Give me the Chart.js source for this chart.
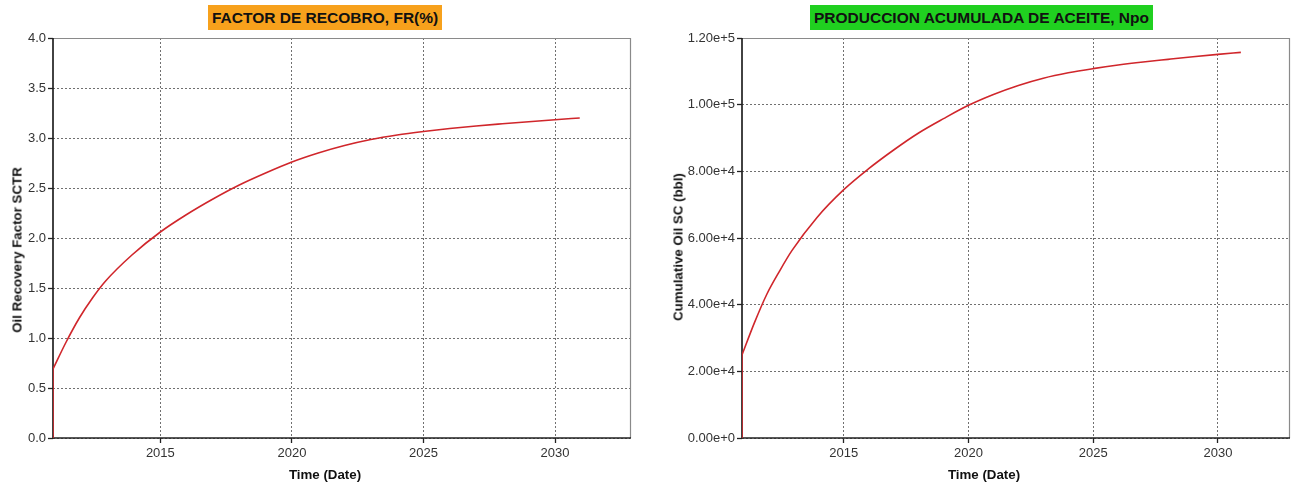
<!DOCTYPE html>
<html>
<head>
<meta charset="utf-8">
<script src="https://cdn.jsdelivr.net/npm/chart.js@4.4.1/dist/chart.umd.min.js"></script>
<style>
  html, body { margin: 0; padding: 0; background: #fff; }
  body { width: 1298px; height: 485px; position: relative; overflow: hidden; font-family: "Liberation Sans", Arial, sans-serif; }
  .panel { position: absolute; top: 0; height: 485px; }
  .heading {
    position: absolute; top: 5px; height: 25px; line-height: 25px;
    padding: 0 4px; font-weight: bold; font-size: 15.5px; color: #111; white-space: nowrap;
  }
  .axis-title {
    position: absolute; font-weight: bold; font-size: 13.3px; color: #111; white-space: nowrap;
    transform: translate(-50%, -50%);
  }
  .axis-title.vertical { transform: translate(-50%, -50%) rotate(-90deg); }
</style>
</head>
<body>
<div class="panel" style="left:0; width:645px;"><canvas id="frChart" width="645" height="485"></canvas></div>
<div class="panel" style="left:650px; width:648px;"><canvas id="npChart" width="648" height="485"></canvas></div>
<div class="heading" style="left:208px; background:#f7a11c;">FACTOR DE RECOBRO, FR(%)</div>
<div class="heading" style="left:810px; background:#20d020;">PRODUCCION ACUMULADA DE ACEITE, Npo</div>
<div class="axis-title" style="left:325px; top:474px;">Time (Date)</div>
<div class="axis-title" style="left:984px; top:474px;">Time (Date)</div>
<div class="axis-title vertical" style="left:17px; top:250px;">Oil Recovery Factor SCTR</div>
<div class="axis-title vertical" style="left:678px; top:247px;">Cumulative Oil SC (bbl)</div>
<script>
// Time axis (decimal years) and tick labels shared by both panels
const xRange = [2010.92, 2032.85];
const xTicks = [2015, 2020, 2025, 2030];

// Oil recovery factor (%): opening step, then the production history
const frStartYear = 2010.92;
const frStartValues = [0, 0.69];
const frYears  = [2010.92, 2011.42, 2011.92, 2012.42, 2012.92, 2013.92, 2015.0, 2016.0, 2017.0, 2018.0, 2019.0, 2020.0, 2021.0, 2022.0, 2023.0, 2024.0, 2025.0, 2026.0, 2027.0, 2028.0, 2029.0, 2030.0, 2030.94];
const frValues = [0.69, 0.96, 1.20, 1.40, 1.57, 1.83, 2.06, 2.235, 2.39, 2.53, 2.65, 2.76, 2.85, 2.925, 2.985, 3.03, 3.065, 3.095, 3.12, 3.142, 3.163, 3.183, 3.20];
const frTicks  = [0, 0.5, 1.0, 1.5, 2.0, 2.5, 3.0, 3.5, 4.0];

// Cumulative oil production (bbl): opening step, then the production history
const npStartYear = 2010.92;
const npStartValues = [0, 24900];
const npYears  = [2010.92, 2011.42, 2011.92, 2012.42, 2012.92, 2013.92, 2015.0, 2016.0, 2017.0, 2018.0, 2019.0, 2020.0, 2021.0, 2022.0, 2023.0, 2024.0, 2025.0, 2026.0, 2027.0, 2028.0, 2029.0, 2030.0, 2030.92];
const npValues = [24900, 34600, 43200, 50000, 56200, 66100, 74500, 80800, 86400, 91500, 95800, 99800, 103050, 105760, 107930, 109560, 110820, 111900, 112810, 113600, 114370, 115090, 115700];
const npTicks  = [0, 20000, 40000, 60000, 80000, 100000, 120000];

Chart.defaults.font.family = '"Liberation Sans", Arial, sans-serif';
Chart.defaults.color = '#333';
Chart.defaults.animation = false;

// Plot frame: dark left/bottom axes, gray top/right edges
const framePlugin = {
  id: 'frame',
  beforeDatasetsDraw(chart) {
    const { ctx, chartArea: a } = chart;
    ctx.save();
    ctx.strokeStyle = '#8a8a8a';
    ctx.lineWidth = 1.2;
    ctx.beginPath();
    ctx.moveTo(a.left, a.top + 0.5);
    ctx.lineTo(a.right + 0.5, a.top + 0.5);
    ctx.lineTo(a.right + 0.5, a.bottom);
    ctx.stroke();
    ctx.strokeStyle = '#222';
    ctx.lineWidth = 1.7;
    ctx.beginPath();
    ctx.moveTo(a.left, a.top);
    ctx.lineTo(a.left, a.bottom);
    ctx.lineTo(a.right + 1, a.bottom);
    ctx.stroke();
    ctx.restore();
  }
};

function sciLabel(v) {
  if (v === 0) return '0.00e+0';
  const e = Math.floor(Math.log10(v) + 1e-9);
  return (v / Math.pow(10, e)).toFixed(2) + 'e+' + e;
}

function makeChart(id, startYear, startValues, years, values, yTicks, yMax, yFmt, yWidth, rightPad) {
  const grid = {
    color: '#707070', lineWidth: 1,
    tickColor: '#222', tickLength: 5, tickWidth: 1.3
  };
  // grid lines are dotted; the axis lines themselves come from the frame plugin
  const border = { display: false, dash: [2, 2] };
  const line = { borderColor: '#d0262b', borderWidth: 1.6, pointRadius: 0, fill: false };
  return new Chart(document.getElementById(id), {
    type: 'line',
    data: {
      datasets: [
        Object.assign({ data: startValues.map(v => ({ x: startYear, y: v })) }, line),
        Object.assign({ data: years.map((t, i) => ({ x: t, y: values[i] })), cubicInterpolationMode: 'monotone' }, line)
      ]
    },
    options: {
      responsive: false,
      layout: { padding: { top: 38, right: rightPad, bottom: 0, left: 0 } },
      plugins: { legend: { display: false }, tooltip: { enabled: false } },
      scales: {
        x: {
          type: 'linear', min: xRange[0], max: xRange[1],
          afterBuildTicks: s => { s.ticks = xTicks.map(v => ({ value: v })); },
          afterFit: s => { s.height = 47; },
          ticks: { padding: 3, font: { size: 13 }, color: '#333', callback: v => String(v), maxRotation: 0 },
          grid: grid,
          border: border
        },
        y: {
          min: 0, max: yMax,
          afterBuildTicks: s => { s.ticks = yTicks.map(v => ({ value: v })); },
          afterFit: s => { s.width = yWidth; },
          ticks: { padding: 2, font: { size: 13 }, color: '#333', callback: yFmt },
          grid: grid,
          border: border
        }
      }
    },
    plugins: [framePlugin]
  });
}

makeChart('frChart', frStartYear, frStartValues, frYears, frValues, frTicks, 4, v => v.toFixed(1), 53, 15);
makeChart('npChart', npStartYear, npStartValues, npYears, npValues, npTicks, 120000, v => sciLabel(v), 92, 9);
</script>
</body>
</html>
